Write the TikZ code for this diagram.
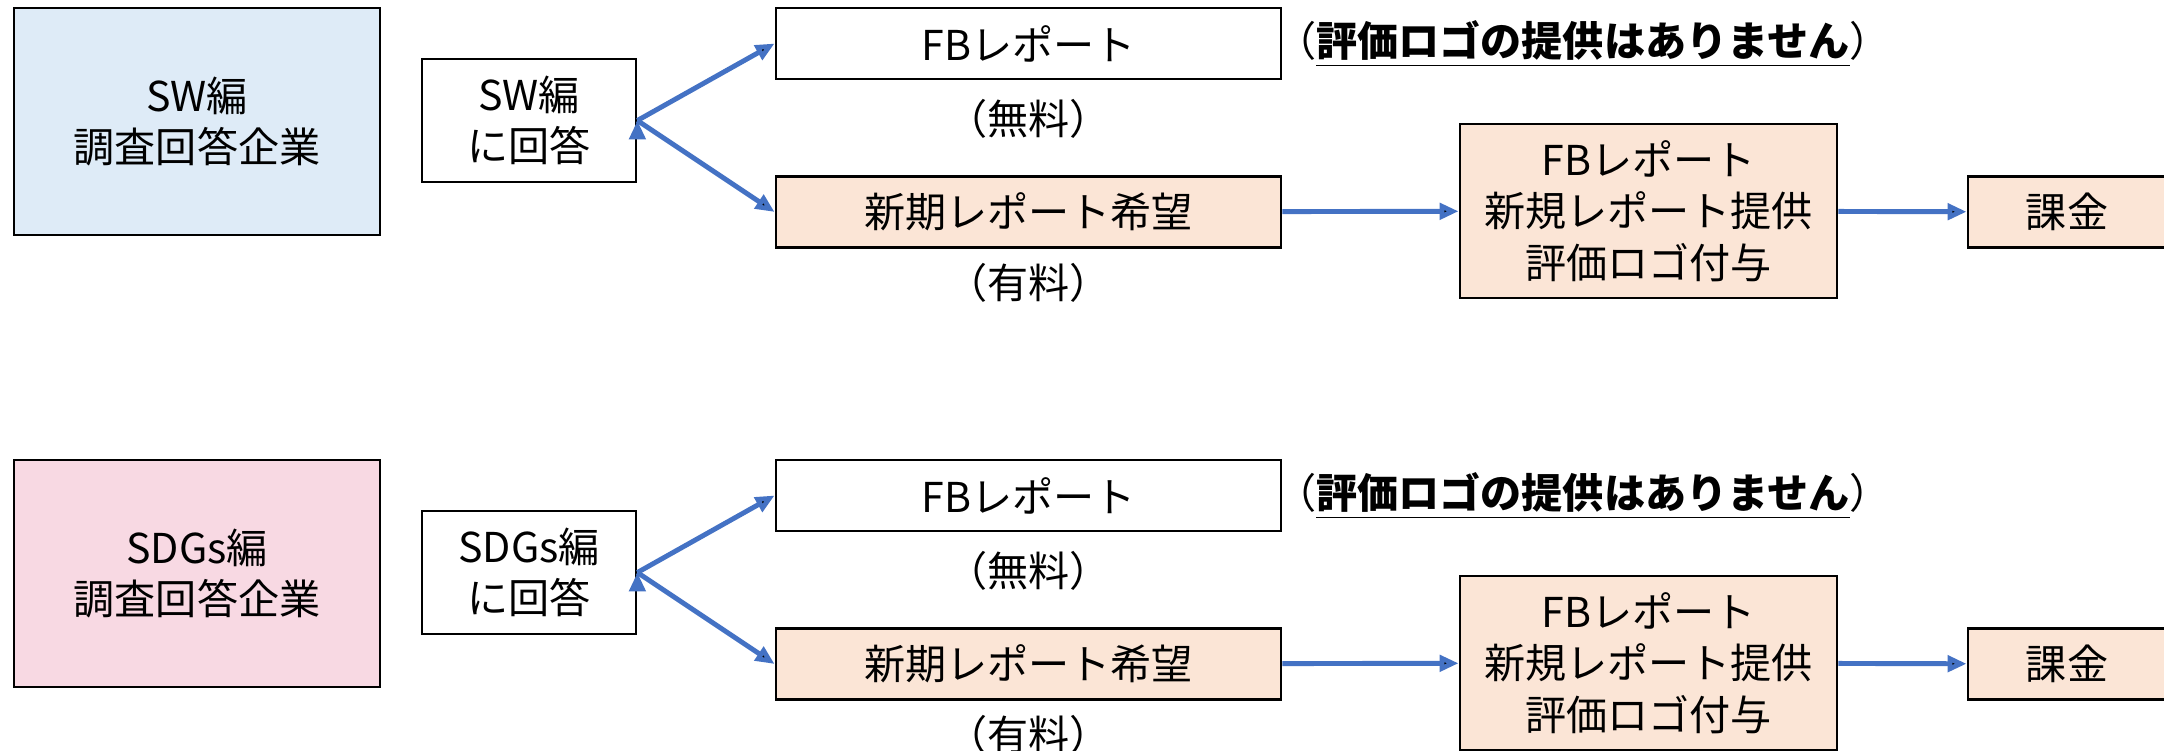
\documentclass[tikz,border=0pt]{standalone}
\usepackage{fontspec}
\setmainfont{Noto Sans CJK JP}
\usetikzlibrary{arrows.meta,positioning}
\definecolor{swblue}{HTML}{DEEBF7}
\definecolor{sdgpink}{HTML}{F8D9E3}
\definecolor{peach}{HTML}{FBE5D6}
\definecolor{flowblue}{HTML}{4472C4}

\begin{document}
\begin{tikzpicture}[->, >={Triangle[length=0.19cm,width=0.16cm]}, semithick]
\tikzstyle{every node}=[font=\fontsize{11.7pt}{14.6pt}\selectfont, align=center, text=black]
\tikzstyle{box}=[draw=black, line width=0.8pt, inner sep=0pt]
\tikzstyle{wide}=[box, minimum width=5.05cm, minimum height=0.71cm]
\tikzstyle{flow}=[draw=flowblue, line width=1.4pt]
\useasboundingbox (0,0) rectangle (21.64,-7.51);

% SW
\node[box, fill=swblue, minimum width=3.66cm, minimum height=2.27cm] (A) at (1.97,-1.215) {SW編\\調査回答企業};
\node[box, minimum width=2.14cm, minimum height=1.23cm] (B) at (5.29,-1.205) {SW編\\に回答};
\node[wide] (C) at (10.285,-0.435) {FBレポート};
\node[wide, fill=peach] (D) at (10.285,-2.12) {新期レポート希望};
\node[box, fill=peach, minimum width=3.77cm, minimum height=1.74cm] (E) at (16.485,-2.11) {FBレポート\\新規レポート提供\\評価ロゴ付与};
\node[box, fill=peach, minimum width=1.98cm, minimum height=0.71cm] (F) at (20.67,-2.12) {課金};
\node (free) at (10.285,-1.19) {（無料）};
\node (paid) at (10.285,-2.83) {（有料）};
\node[anchor=west, inner sep=0pt] (note) at (12.74,-0.44) {（\textbf{\underline{評価ロゴの提供はありません}}）};
\path[flow]
(B.east) edge (C.west)
         edge (D.west)
(D) edge (E)
(E) edge (F);

% SDGs
\node[box, fill=sdgpink, minimum width=3.66cm, minimum height=2.27cm] (A2) at (1.97,-5.735) {SDGs編\\調査回答企業};
\node[box, minimum width=2.14cm, minimum height=1.23cm] (B2) at (5.29,-5.725) {SDGs編\\に回答};
\node[wide] (C2) at (10.285,-4.955) {FBレポート};
\node[wide, fill=peach] (D2) at (10.285,-6.64) {新期レポート希望};
\node[box, fill=peach, minimum width=3.77cm, minimum height=1.74cm] (E2) at (16.485,-6.63) {FBレポート\\新規レポート提供\\評価ロゴ付与};
\node[box, fill=peach, minimum width=1.98cm, minimum height=0.71cm] (F2) at (20.67,-6.64) {課金};
\node (free2) at (10.285,-5.71) {（無料）};
\node (paid2) at (10.285,-7.35) {（有料）};
\node[anchor=west, inner sep=0pt] (note2) at (12.74,-4.96) {（\textbf{\underline{評価ロゴの提供はありません}}）};
\path[flow]
(B2.east) edge (C2.west)
          edge (D2.west)
(D2) edge (E2)
(E2) edge (F2);
\end{tikzpicture}
\end{document}
